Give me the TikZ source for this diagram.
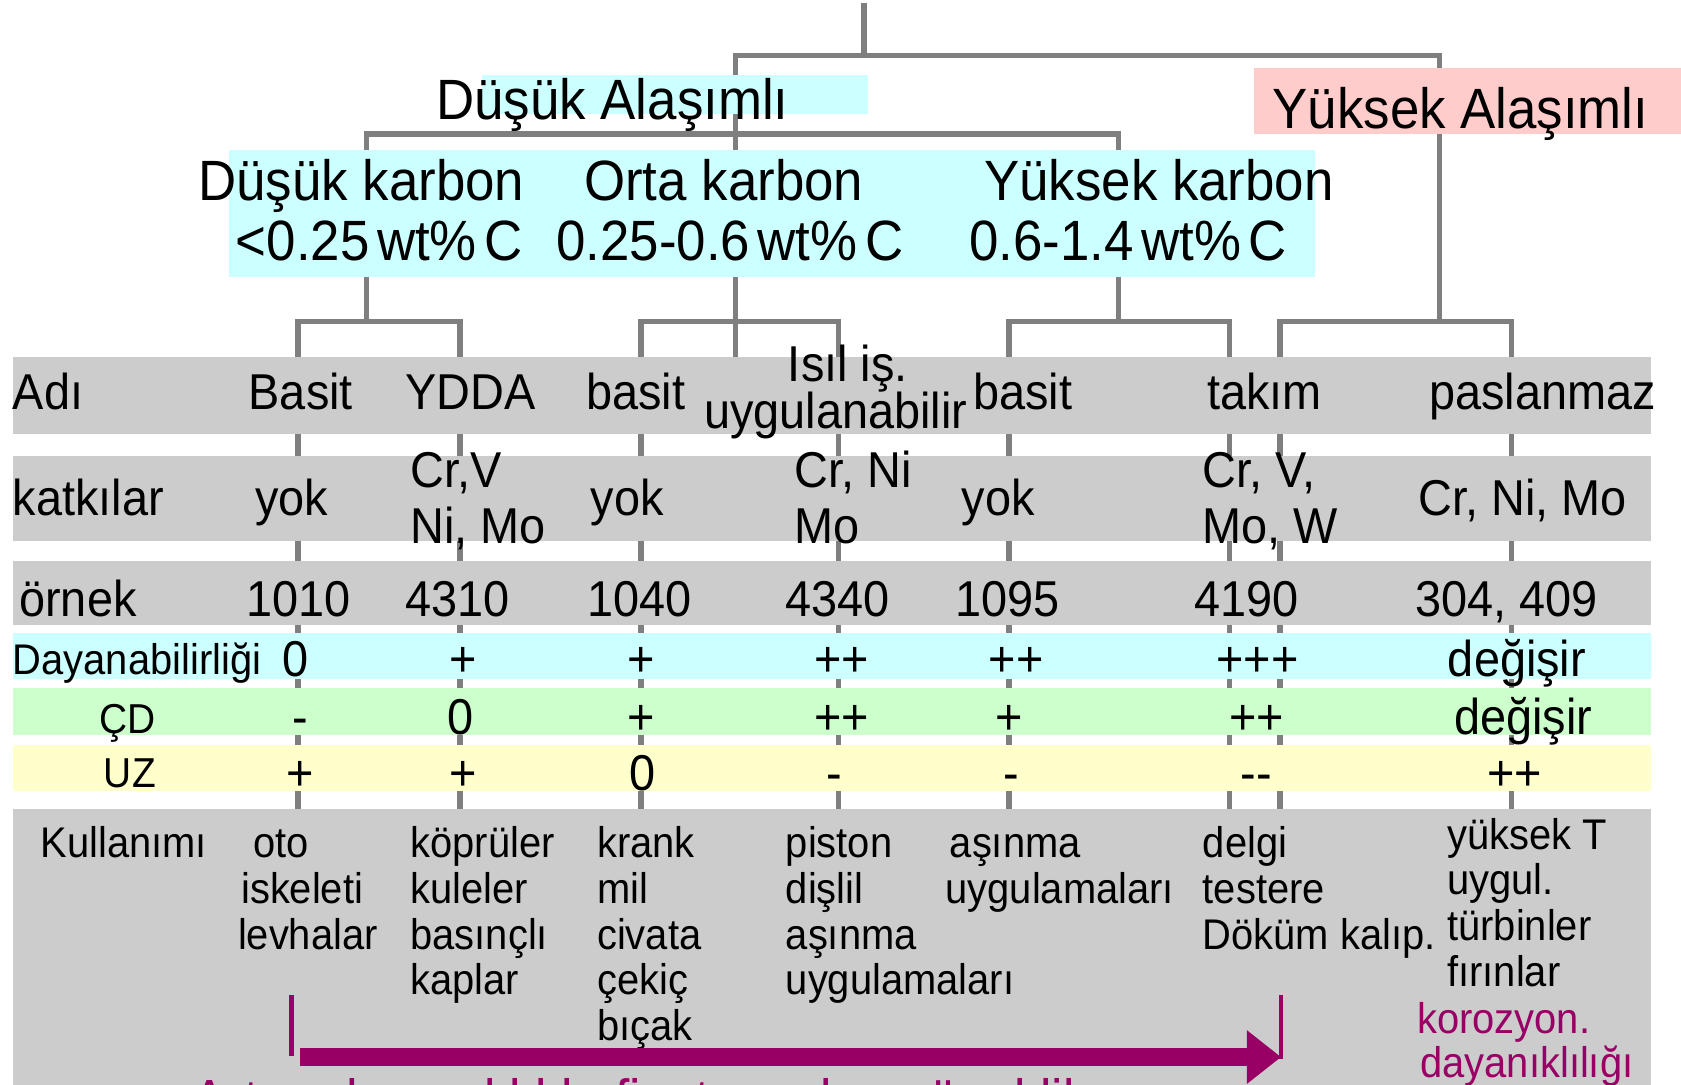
\documentclass[tikz,border=0pt]{standalone}
\usepackage{fontspec}
\setmainfont[FakeStretch=0.93]{Liberation Sans}
\usetikzlibrary{arrows.meta}
\definecolor{linegray}{HTML}{7F7F7F}
\definecolor{rowgray}{HTML}{CCCCCC}
\definecolor{cyanbg}{HTML}{CCFFFF}
\definecolor{pinkbg}{HTML}{FFCCCC}
\definecolor{greenbg}{HTML}{CCFFCC}
\definecolor{yellowbg}{HTML}{FFFFCC}
\definecolor{plum}{HTML}{990066}
\tikzset{
  tree/.style={draw=linegray, line width=5pt},
  lbl/.style={inner sep=0pt, outer sep=0pt, anchor=base west},
  toptext/.style={lbl, font=\fontsize{53}{60}\selectfont},
  rowt/.style={lbl, font=\fontsize{47}{52}\selectfont},
  smallt/.style={lbl, font=\fontsize{40}{43}\selectfont},
  valt/.style={inner sep=0pt, outer sep=0pt, anchor=base, font=\fontsize{47}{52}\selectfont},
  plumt/.style={smallt, text=plum},
  tick/.style={draw=plum, line width=4pt},
  bigarrow/.style={draw=plum, line width=17pt, -{Triangle[length=32pt,width=48pt]}},
}
\begin{document}
\begin{tikzpicture}[x=1pt,y=-1pt]
\useasboundingbox (0,0) rectangle (1568,1012);
\begin{scope}
\clip (0,0) rectangle (1568,1012);
% ---------- tree coordinates
\coordinate (root) at (806,3);
\coordinate (rootj) at (806,52);
\coordinate (jL) at (686,52);
\coordinate (jH) at (1343,52);
\coordinate (jLb) at (686,125);
\coordinate (jDk) at (342,125);
\coordinate (jYk) at (1043,125);
\coordinate (dkB) at (342,300);
\coordinate (okEnd) at (686,340);
\coordinate (ykB) at (1043,300);
\coordinate (hB) at (1343,300);
\foreach \n/\x in {c1/278,c2/429,c3/598,c4/782,c5/941,c6/1147,c7/1194,c8/1410}{
  \coordinate (\n t) at (\x,300);
  \coordinate (\n b) at (\x,760);
}
% ---------- tree lines
\draw[tree] (root) -- (rootj);
\draw[tree] (jLb) -- (jL) -- (jH) -- (hB);
\draw[tree] (dkB) -- (jDk) -- (jYk) -- (ykB);
\draw[tree] (jLb) -- (okEnd);
\draw[tree] (c1b) -- (c1t) -- (c2t) -- (c2b);
\draw[tree] (c3b) -- (c3t) -- (c4t) -- (c4b);
\draw[tree] (c5b) -- (c5t) -- (c6t) -- (c6b);
\draw[tree] (c7b) -- (c7t) -- (c8t) -- (c8b);
% ---------- boxes
\fill[cyanbg] (450,70) rectangle (810,106);
\fill[pinkbg] (1170,63) rectangle (1568,125);
\fill[cyanbg] (214,140) rectangle (1227,258);
\fill[rowgray] (12,333) rectangle (1540,405);
\fill[rowgray] (12,425) rectangle (1540,505);
\fill[rowgray] (12,523) rectangle (1540,583);
\fill[cyanbg] (12,590) rectangle (1540,633);
\fill[greenbg] (12,642) rectangle (1540,686);
\fill[yellowbg] (12,695) rectangle (1540,738);
\fill[rowgray] (12,755) rectangle (1540,1012);
% ---------- top texts
\node[toptext] (dA) at (407,111) {Düşük Alaşımlı};
\node[toptext] (yA) at (1187,120) {Yüksek Alaşımlı};
\node[toptext] (dk) at (185,187) {Düşük karbon};
\node[toptext] (ok) at (545,187) {Orta karbon};
\node[toptext] (yk) at (918,187) {Yüksek karbon};
\node[toptext] (dkc) at (220,243) {<0.25\hspace{7pt}wt\%\hspace{7pt}C};
\node[toptext] (okc) at (519,243) {0.25-0.6\hspace{7pt}wt\%\hspace{7pt}C};
\node[toptext] (ykc) at (904,243) {0.6-1.4\hspace{7pt}wt\%\hspace{7pt}C};
% ---------- Adi row
\foreach \x/\t [count=\i] in {12/Adı,232/Basit,378/YDDA,547/basit,908/basit,1126/takım,1333/paslanmaz}
  \node[rowt] (adi\i) at (\x,382) {\t};
\node[rowt] (isil1) at (735,356) {Isıl iş.};
\node[rowt] (isil2) at (657,400) {uygulanabilir};
% ---------- katkilar row
\foreach \x/\y/\t [count=\i] in {12/481/katkılar,238/481/yok,383/455/{Cr,V},383/507/{Ni, Mo},551/481/yok,741/455/{Cr, Ni},741/507/Mo,897/481/yok,1122/455/{Cr, V,},1122/507/{Mo, W},1323/481/{Cr, Ni, Mo}}
  \node[rowt] (kat\i) at (\x,\y) {\t};
% ---------- ornek row
\foreach \x/\t [count=\i] in {18/örnek,230/1010,378/4310,548/1040,733/4340,891/1095,1114/4190,1320/{304, 409}}
  \node[rowt] (orn\i) at (\x,575) {\t};
% ---------- property rows
\node[smallt] (day) at (12,629) {Dayanabilirliği};
\foreach \x/\t [count=\i] in {276/0,432/+,598/+,785/++,948/++,1173/+++,1415/değişir}
  \node[valt] (dv\i) at (\x,631) {\t};
\node[smallt, font=\fontsize{39}{43}\selectfont] (cd) at (93,684) {ÇD};
\foreach \x/\t [count=\i] in {280/-,430/0,598/+,785/++,941/+,1172/++,1421/değişir}
  \node[valt] (cv\i) at (\x,685) {\t};
\node[smallt, font=\fontsize{39}{43}\selectfont] (uz) at (97,735) {UZ};
\foreach \x/\t [count=\i] in {280/+,432/+,599/0,778/-,943/-,1172/{{-}{-}},1413/++}
  \node[valt] (uv\i) at (\x,737) {\t};
% ---------- Kullanimi row
\node[smallt] (kul) at (38,800) {Kullanımı};
\foreach \x/\l/\t in {236/0/oto,225/1/iskeleti,222/2/levhalar,
  383/0/köprüler,383/1/kuleler,383/2/basınçlı,383/3/kaplar,
  557/0/krank,557/1/mil,557/2/civata,557/3/çekiç,557/4/bıçak,
  733/0/piston,733/1/dişlil,733/2/aşınma,733/3/uygulamaları,
  886/0/aşınma,882/1/uygulamaları,
  1122/0/delgi,1122/1/testere,1122/2/Döküm kalıp.}
  \node[smallt] (k-\x-\l) at (\x,800+42.6*\l) {\t};
\foreach \l/\t in {0/yüksek T,1/uygul.,2/türbinler,3/fırınlar}
  \node[smallt] (k7-\l) at (1350,792+42.8*\l) {\t};
\node[plumt] (kor1) at (1322,964) {korozyon.};
\node[plumt] (kor2) at (1325,1005) {dayanıklılığı};
% ---------- arrow
\coordinate (ltA) at (272,928);
\coordinate (ltB) at (272,985);
\coordinate (rtA) at (1195,928);
\coordinate (rtB) at (1195,988);
\coordinate (arS) at (280,986);
\coordinate (arE) at (1195,986);
\draw[tick] (ltA) -- (ltB);
\draw[tick] (rtA) -- (rtB);
\draw[bigarrow] (arS) -- (arE);
\node[lbl, text=plum, font=\fontsize{51.5}{56}\selectfont] (artan) at (180,1043) {Artan dayanıklılık, fiyat, azalan süneklik};
\end{scope}
\end{tikzpicture}
\end{document}
